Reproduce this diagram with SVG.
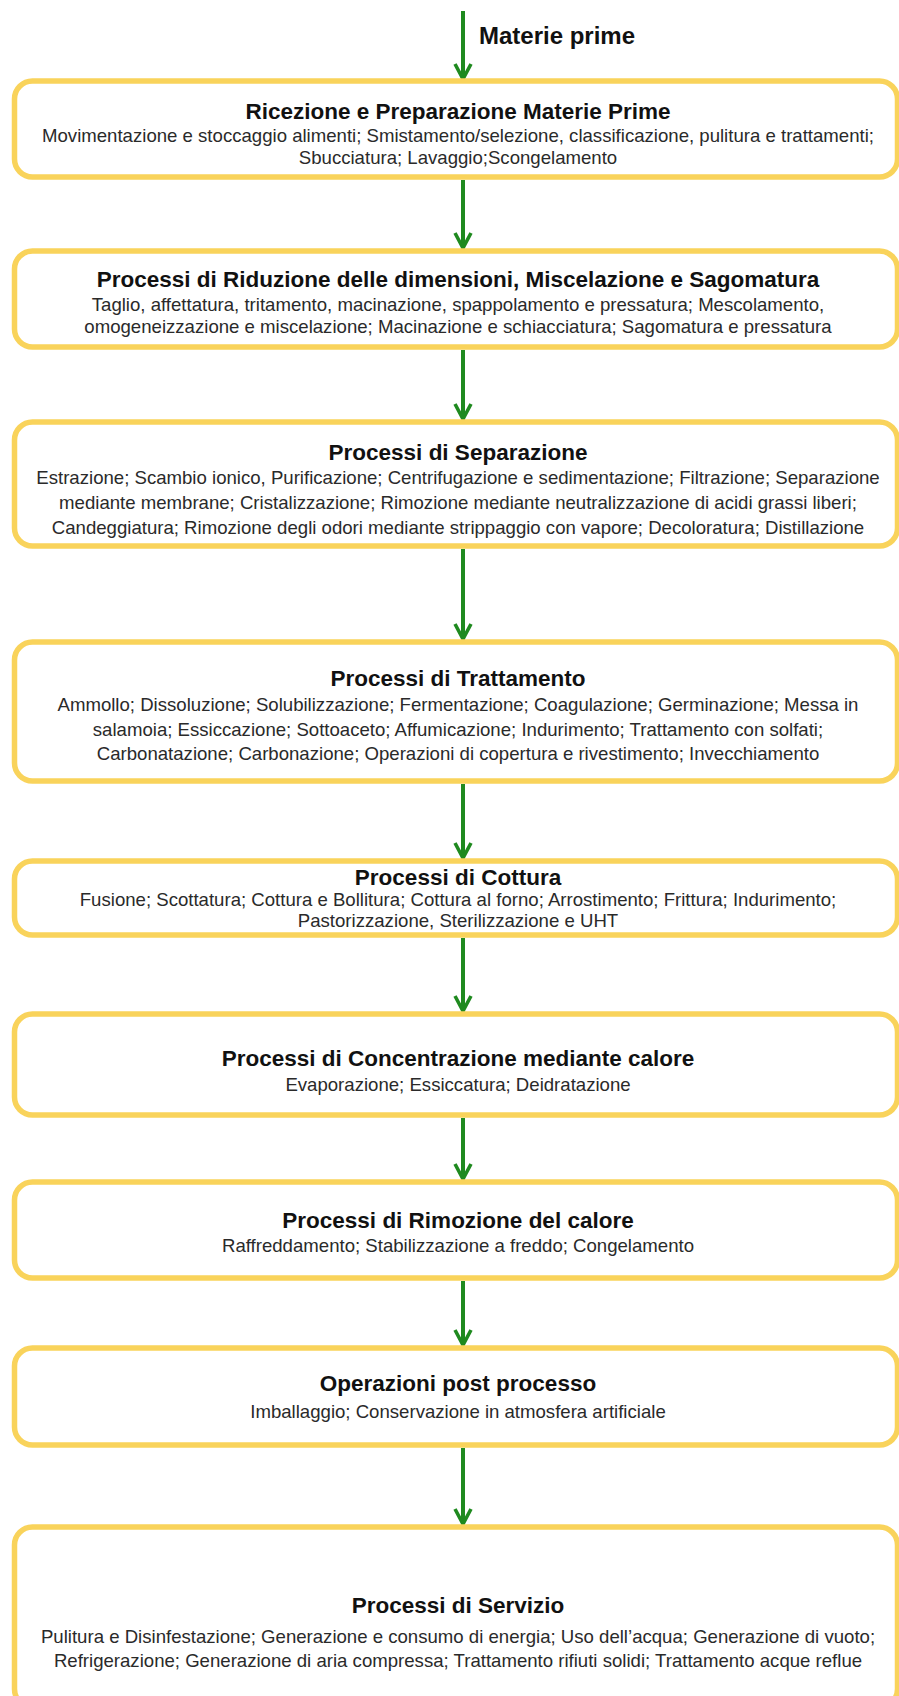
<svg xmlns="http://www.w3.org/2000/svg" width="899" height="1696" viewBox="0 0 899 1696">
<defs>
<style>
.box{fill:#fff;stroke:#F9D35B;stroke-width:5.5}
.t{font-family:"Liberation Sans",Arial,sans-serif;font-weight:bold;font-size:22.5px;fill:#111;text-anchor:middle}
.b{font-family:"Liberation Sans",Arial,sans-serif;font-size:18.6px;fill:#2a2a2a;text-anchor:middle}
.lbl{font-family:"Liberation Sans",Arial,sans-serif;font-weight:bold;font-size:24px;fill:#111}
.c{stroke:#1F8A1F;stroke-width:4;fill:none}
</style>
<marker id="ah" viewBox="0 0 20 20" refX="14" refY="10" markerWidth="20" markerHeight="20" markerUnits="userSpaceOnUse" orient="auto">
<path d="M2,2 L17,10 L2,18" fill="none" stroke="#1F8A1F" stroke-width="3.6" stroke-linejoin="miter"/>
</marker>
</defs>
<rect width="899" height="1696" fill="#fff"/>
<g id="connectors">
<line class="c" x1="463" y1="11" x2="463" y2="76" marker-end="url(#ah)"/>
<line class="c" x1="463" y1="180" x2="463" y2="245" marker-end="url(#ah)"/>
<line class="c" x1="463" y1="350" x2="463" y2="416" marker-end="url(#ah)"/>
<line class="c" x1="463" y1="549" x2="463" y2="636" marker-end="url(#ah)"/>
<line class="c" x1="463" y1="784" x2="463" y2="855" marker-end="url(#ah)"/>
<line class="c" x1="463" y1="938" x2="463" y2="1008" marker-end="url(#ah)"/>
<line class="c" x1="463" y1="1118" x2="463" y2="1176" marker-end="url(#ah)"/>
<line class="c" x1="463" y1="1281" x2="463" y2="1342" marker-end="url(#ah)"/>
<line class="c" x1="463" y1="1448" x2="463" y2="1521" marker-end="url(#ah)"/>
<text class="lbl" x="479" y="44">Materie prime</text>
</g>
<g id="n1">
<rect class="box" x="14.5" y="81" width="883" height="96" rx="18"/>
<text class="t" x="458" y="119">Ricezione e Preparazione Materie Prime</text>
<text class="b" x="458" y="142">Movimentazione e stoccaggio alimenti; Smistamento/selezione, classificazione, pulitura e trattamenti;</text>
<text class="b" x="458" y="164">Sbucciatura; Lavaggio;Scongelamento</text>
</g>
<g id="n2">
<rect class="box" x="14.5" y="251" width="883" height="96" rx="18"/>
<text class="t" x="458" y="287">Processi di Riduzione delle dimensioni, Miscelazione e Sagomatura</text>
<text class="b" x="458" y="311">Taglio, affettatura, tritamento, macinazione, spappolamento e pressatura; Mescolamento,</text>
<text class="b" x="458" y="333">omogeneizzazione e miscelazione; Macinazione e schiacciatura; Sagomatura e pressatura</text>
</g>
<g id="n3">
<rect class="box" x="14.5" y="422" width="883" height="124" rx="18"/>
<text class="t" x="458" y="460">Processi di Separazione</text>
<text class="b" x="458" y="484">Estrazione; Scambio ionico, Purificazione; Centrifugazione e sedimentazione; Filtrazione; Separazione</text>
<text class="b" x="458" y="509">mediante membrane; Cristalizzazione; Rimozione mediante neutralizzazione di acidi grassi liberi;</text>
<text class="b" x="458" y="534">Candeggiatura; Rimozione degli odori mediante strippaggio con vapore; Decoloratura; Distillazione</text>
</g>
<g id="n4">
<rect class="box" x="14.5" y="642" width="883" height="139" rx="18"/>
<text class="t" x="458" y="686">Processi di Trattamento</text>
<text class="b" x="458" y="711">Ammollo; Dissoluzione; Solubilizzazione; Fermentazione; Coagulazione; Germinazione; Messa in</text>
<text class="b" x="458" y="736">salamoia; Essiccazione; Sottoaceto; Affumicazione; Indurimento; Trattamento con solfati;</text>
<text class="b" x="458" y="760">Carbonatazione; Carbonazione; Operazioni di copertura e rivestimento; Invecchiamento</text>
</g>
<g id="n5">
<rect class="box" x="14.5" y="861" width="883" height="74" rx="18"/>
<text class="t" x="458" y="885">Processi di Cottura</text>
<text class="b" x="458" y="906">Fusione; Scottatura; Cottura e Bollitura; Cottura al forno; Arrostimento; Frittura; Indurimento;</text>
<text class="b" x="458" y="927">Pastorizzazione, Sterilizzazione e UHT</text>
</g>
<g id="n6">
<rect class="box" x="14.5" y="1014" width="883" height="101" rx="18"/>
<text class="t" x="458" y="1066">Processi di Concentrazione mediante calore</text>
<text class="b" x="458" y="1091">Evaporazione; Essiccatura; Deidratazione</text>
</g>
<g id="n7">
<rect class="box" x="14.5" y="1182" width="883" height="96" rx="18"/>
<text class="t" x="458" y="1228">Processi di Rimozione del calore</text>
<text class="b" x="458" y="1252">Raffreddamento; Stabilizzazione a freddo; Congelamento</text>
</g>
<g id="n8">
<rect class="box" x="14.5" y="1348" width="883" height="97" rx="18"/>
<text class="t" x="458" y="1391">Operazioni post processo</text>
<text class="b" x="458" y="1418">Imballaggio; Conservazione in atmosfera artificiale</text>
</g>
<g id="n9">
<rect class="box" x="14.5" y="1527" width="883" height="180" rx="18"/>
<text class="t" x="458" y="1613">Processi di Servizio</text>
<text class="b" x="458" y="1643">Pulitura e Disinfestazione; Generazione e consumo di energia; Uso dell’acqua; Generazione di vuoto;</text>
<text class="b" x="458" y="1667">Refrigerazione; Generazione di aria compressa; Trattamento rifiuti solidi; Trattamento acque reflue</text>
</g>
</svg>
